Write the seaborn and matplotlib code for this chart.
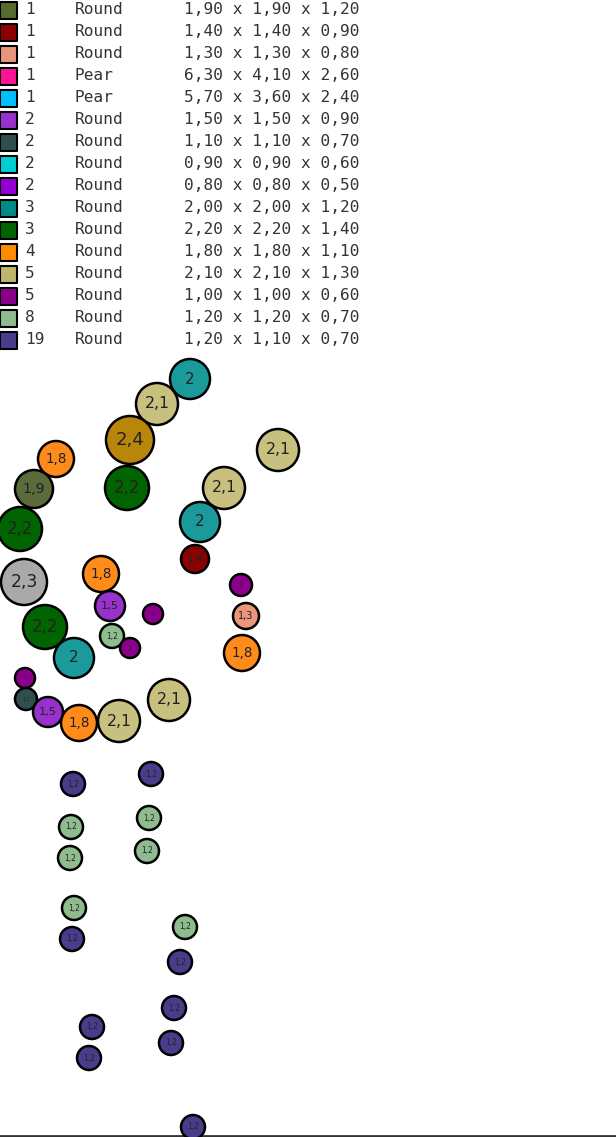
"""
Bead layout chart
"""
import matplotlib.pyplot as plt
import seaborn as sns
import pandas as pd

sns.set_style("white")
plt.rcParams['font.family'] = ['DejaVu Sans']

# legend table
leg_colors = ['#556B2F', '#8B0000', '#E9967A', '#FF1493', '#00BFFF', '#9932CC', '#2F4F4F', '#00CED1',
              '#9400D3', '#008B8B', '#006400', '#FF8C00', '#BDB76B', '#8B008B', '#8FBC8F', '#483D8B']
leg_counts = ['1', '1', '1', '1', '1', '2', '2', '2', '2', '3', '3', '4', '5', '5', '8', '19']
leg_shapes = ['Round', 'Round', 'Round', 'Pear', 'Pear', 'Round', 'Round', 'Round',
              'Round', 'Round', 'Round', 'Round', 'Round', 'Round', 'Round', 'Round']
leg_dims = ['1,90 x 1,90 x 1,20', '1,40 x 1,40 x 0,90', '1,30 x 1,30 x 0,80', '6,30 x 4,10 x 2,60',
            '5,70 x 3,60 x 2,40', '1,50 x 1,50 x 0,90', '1,10 x 1,10 x 0,70', '0,90 x 0,90 x 0,60',
            '0,80 x 0,80 x 0,50', '2,00 x 2,00 x 1,20', '2,20 x 2,20 x 1,40', '1,80 x 1,80 x 1,10',
            '2,10 x 2,10 x 1,30', '1,00 x 1,00 x 0,60', '1,20 x 1,20 x 0,70', '1,20 x 1,10 x 0,70']

# beads (pixel positions on the layout)
bead_x = [190, 157, 130, 278, 56, 34, 127, 224, 20, 200, 195, 24, 101, 241, 110, 153, 246, 45, 112,
          130, 242, 74, 25, 26, 48, 79, 119, 169,
          73, 151, 71, 149, 70, 147, 74, 185, 72, 180, 174, 92, 171, 89, 193]
bead_y = [379, 404, 440, 450, 459, 489, 488, 488, 529, 522, 559, 582, 574, 585, 606, 614, 616, 627, 636,
          648, 653, 658, 678, 699, 712, 723, 721, 700,
          784, 774, 827, 818, 858, 851, 908, 927, 939, 962, 1008, 1027, 1043, 1058, 1127]
bead_d = [40, 42, 48, 42, 36, 38, 44, 42, 44, 40, 28, 46, 36, 22, 30, 20, 26, 44, 24,
          20, 36, 40, 20, 22, 30, 36, 42, 42,
          24, 24, 24, 24, 24, 24, 24, 24, 24, 24, 24, 24, 24, 24, 24]
bead_label = ['2', '2,1', '2,4', '2,1', '1,8', '1,9', '2,2', '2,1', '2,2', '2', '1,4', '2,3', '1,8', '1',
              '1,5', '1', '1,3', '2,2', '1,2', '1', '1,8', '2', '1', '1,1', '1,5', '1,8', '2,1', '2,1',
              '1,2', '1,2', '1,2', '1,2', '1,2', '1,2', '1,2', '1,2', '1,2', '1,2', '1,2', '1,2',
              '1,2', '1,2', '1,2']
bead_color = ['#1A9A9A', '#C8C07E', '#B8860B', '#C8C07E', '#FF8C1A', '#5C6B3A', '#006400', '#C8C07E',
              '#006400', '#1A9A9A', '#8B0000', '#A9A9A9', '#FF8C1A', '#8B008B', '#9932CC', '#8B008B',
              '#E9967A', '#006400', '#8FBC8F', '#8B008B', '#FF8C1A', '#1A9A9A', '#8B008B', '#2F4F4F',
              '#9932CC', '#FF8C1A', '#C8C07E', '#C8C07E',
              '#483D8B', '#483D8B', '#8FBC8F', '#8FBC8F', '#8FBC8F', '#8FBC8F', '#8FBC8F', '#8FBC8F',
              '#483D8B', '#483D8B', '#483D8B', '#483D8B', '#483D8B', '#483D8B', '#483D8B']

W, H, DPI = 616, 1137, 100
fig = plt.figure(figsize=(W / DPI, H / DPI), dpi=DPI)
ax = fig.add_axes([0, 0, 1, 1])
ax.set_xlim(0, W)
ax.set_ylim(H, 0)
ax.axis('off')

# legend squares
leg_y = [10 + 22 * i for i in range(len(leg_colors))]
leg_df = pd.DataFrame({'x': [8] * len(leg_colors), 'y': leg_y, 'c': leg_colors})
sns.scatterplot(data=leg_df, x='x', y='y', hue='c', palette={c: c for c in leg_colors},
                marker='s', s=(17 * 0.72) ** 2, edgecolor='black', linewidth=1.5,
                legend=False, ax=ax)
for y, n, sh, dm in zip(leg_y, leg_counts, leg_shapes, leg_dims):
    kw = dict(va='center', ha='left', fontsize=11.6, color='#333333', family='DejaVu Sans Mono')
    ax.text(25, y, n, **kw)
    ax.text(75, y, sh, **kw)
    ax.text(184, y, dm, **kw)

# beads
bead_df = pd.DataFrame({'x': bead_x, 'y': bead_y, 'd': bead_d, 'c': bead_color})
sns.scatterplot(data=bead_df, x='x', y='y', hue='c', palette={c: c for c in set(bead_color)},
                s=[(d * 0.72) ** 2 for d in bead_d], edgecolor='black', linewidth=1.8,
                legend=False, ax=ax, zorder=3)
for x, y, d, lab in zip(bead_x, bead_y, bead_d, bead_label):
    fs = d * 0.27 if d > 24 else (5.5 if d >= 24 else 3.5)
    ax.text(x, y, lab, ha='center', va='center', fontsize=fs, color='#222222', zorder=4)

ax.axhline(1136, color='#333333', linewidth=2)

plt.savefig('out.png', dpi=DPI)
plt.close()
